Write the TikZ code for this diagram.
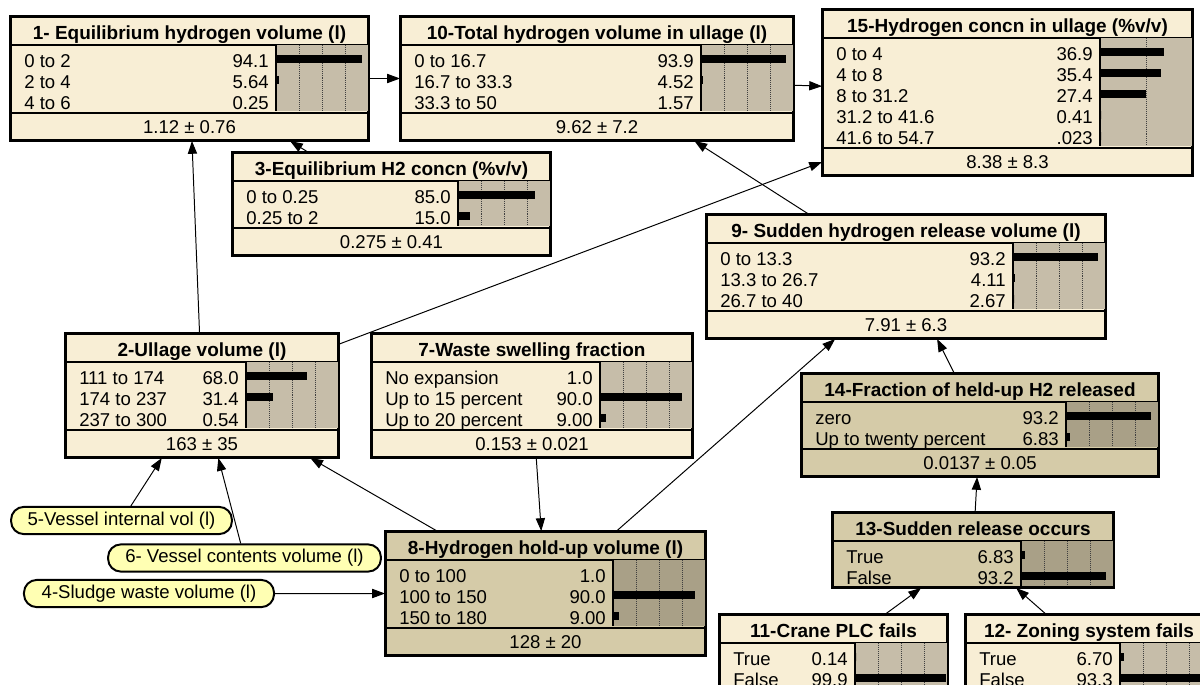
\documentclass[tikz,border=0pt]{standalone}
\usepackage{fontspec}
\setmainfont{Liberation Sans}
\usepackage{tikz}
\usetikzlibrary{arrows.meta, calc, fit}
\definecolor{nodecream}{HTML}{F8EED5}
\definecolor{histcream}{HTML}{C6BDA9}
\definecolor{nodetan}{HTML}{D5CBA8}
\definecolor{histtan}{HTML}{A9A087}
\definecolor{pillyellow}{HTML}{FFFFB3}
\tikzset{
    bnbox/.style={rectangle, draw=black, line width=1.4pt, inner sep=0pt, fill=nodecream},
    bndark/.style={bnbox, fill=nodetan},
    pill/.style={rectangle, rounded corners=0.32cm, draw=black, line width=1.4pt, inner sep=0pt, minimum height=0.68cm, fill=pillyellow, font=\fontsize{13.2}{15}\selectfont},
    bntitle/.style={anchor=base, inner sep=0pt, font=\fontsize{13.5}{15}\selectfont\bfseries},
    statetext/.style={inner sep=0pt, font=\fontsize{13.2}{15}\selectfont},
    bnsep/.style={line width=1.2pt},
    gridline/.style={densely dotted, line width=0.4pt, black!75},
    link/.style={line width=0.7pt, -{Triangle[length=3.2mm, width=2.3mm]}}
}
\newcommand{\bnstates}[4][93]{%
  \foreach \lab/\val [count=\k] in {#4} {\xdef\bnrows{\k}}
  \draw[bnsep] ($(#2.north west)+(0,29)$) -- ($(#2.north east)+(0,29)$);
  \fill[#3] ($(#2.north east)+(-93,29)$) rectangle ($(#2.north east)+(0,32+21*\bnrows)$);
  \begin{scope}
    \clip ($(#2.north east)+(-93,29)$) rectangle ($(#2.north east)+(0,32+21*\bnrows)$);
    \foreach \g in {1,2,3}
      \draw[gridline] ($(#2.north east)+(-93+\g*#1/4,29)$) -- ++(0,3+21*\bnrows);
  \end{scope}
  \draw[bnsep] ($(#2.north east)+(-93,29)$) -- ++(0,3+21*\bnrows);
  \foreach \lab/\val [count=\k] in {#4} {
    \node[statetext, anchor=base west] at ($(#2.north west)+(14,30.2+21*\k)$) {\lab};
    \node[statetext, anchor=base east] at ($(#2.north east)+(-100,30.2+21*\k)$) {\val};
    \fill ($(#2.north east)+(-92,18+21*\k)$) rectangle ++({max(0,(\val-3.2)*#1/100)},8);
  }
  \draw[line width=1.4pt] (#2.north west) rectangle (#2.south east);
}
\newcommand{\bnmean}[2]{%
  \draw[bnsep] ($(#1.south west)+(0,-28)$) -- ($(#1.south east)+(0,-28)$);
  \node[statetext, anchor=base] at ($(#1.south)+(0,-7.4)$) {#2};
}

\begin{document}
\begin{tikzpicture}[x=0.025cm, y=-0.025cm]
    \useasboundingbox (0,0) rectangle (1200,684);
    \fill[white] (0,0) rectangle (1200,684);
    \clip (0,0) rectangle (1200,684);

    \node[bnbox, fit={(11,17) (368,140)}] (eqvol) {};
    \node[bntitle] at ($(eqvol.north)+(0,23)$) {1- Equilibrium hydrogen volume (l)};
    \bnstates{eqvol}{histcream}{0 to 2/94.1, 2 to 4/5.64, 4 to 6/0.25}
    \bnmean{eqvol}{1.12 ± 0.76}

    \node[bnbox, fit={(401,17) (793,140)}] (totvol) {};
    \node[bntitle] at ($(totvol.north)+(0,23)$) {10-Total hydrogen volume in ullage (l)};
    \bnstates{totvol}{histcream}{0 to 16.7/93.9, 16.7 to 33.3/4.52, 33.3 to 50/1.57}
    \bnmean{totvol}{9.62 ± 7.2}

    \node[bnbox, fit={(823,10) (1192,175)}] (concn) {};
    \node[bntitle] at ($(concn.north)+(0,23)$) {15-Hydrogen concn in ullage (\%v/v)};
    \bnstates[186]{concn}{histcream}{0 to 4/36.9, 4 to 8/35.4, 8 to 31.2/27.4, 31.2 to 41.6/0.41, 41.6 to 54.7/.023}
    \bnmean{concn}{8.38 ± 8.3}

    \node[bnbox, fit={(233,153) (550,255)}] (eqconc) {};
    \node[bntitle] at ($(eqconc.north)+(0,23)$) {3-Equilibrium H2 concn (\%v/v)};
    \bnstates{eqconc}{histcream}{0 to 0.25/85.0, 0.25 to 2/15.0}
    \bnmean{eqconc}{0.275 ± 0.41}

    \node[bnbox, fit={(707,215) (1105,338)}] (release) {};
    \node[bntitle] at ($(release.north)+(0,23)$) {9- Sudden hydrogen release volume (l)};
    \bnstates{release}{histcream}{0 to 13.3/93.2, 13.3 to 26.7/4.11, 26.7 to 40/2.67}
    \bnmean{release}{7.91 ± 6.3}

    \node[bnbox, fit={(66,334) (338,457)}] (ullage) {};
    \node[bntitle] at ($(ullage.north)+(0,23)$) {2-Ullage volume (l)};
    \bnstates{ullage}{histcream}{111 to 174/68.0, 174 to 237/31.4, 237 to 300/0.54}
    \bnmean{ullage}{163 ± 35}

    \node[bnbox, fit={(372,334) (692,457)}] (swelling) {};
    \node[bntitle] at ($(swelling.north)+(0,23)$) {7-Waste swelling fraction};
    \bnstates{swelling}{histcream}{No expansion/1.0, Up to 15 percent/90.0, Up to 20 percent/9.00}
    \bnmean{swelling}{0.153 ± 0.021}

    \node[bndark, fit={(802,374) (1158,476)}] (fraction) {};
    \node[bntitle] at ($(fraction.north)+(0,23)$) {14-Fraction of held-up H2 released};
    \bnstates{fraction}{histtan}{zero/93.2, Up to twenty percent/6.83}
    \bnmean{fraction}{0.0137 ± 0.05}

    \node[bndark, fit={(386,532) (705,655)}] (holdup) {};
    \node[bntitle] at ($(holdup.north)+(0,23)$) {8-Hydrogen hold-up volume (l)};
    \bnstates{holdup}{histtan}{0 to 100/1.0, 100 to 150/90.0, 150 to 180/9.00}
    \bnmean{holdup}{128 ± 20}

    \node[bndark, fit={(833,513) (1113,587)}] (occurs) {};
    \node[bntitle] at ($(occurs.north)+(0,23)$) {13-Sudden release occurs};
    \bnstates{occurs}{histtan}{True/6.83, False/93.2}

    \node[bnbox, fit={(720,615) (947,689)}] (crane) {};
    \node[bntitle] at ($(crane.north)+(0,23)$) {11-Crane PLC fails};
    \bnstates{crane}{histcream}{True/0.14, False/99.9}

    \node[bnbox, fit={(966,615) (1212,689)}] (zoning) {};
    \node[bntitle] at ($(zoning.north)+(0,23)$) {12- Zoning system fails};
    \bnstates{zoning}{histcream}{True/6.70, False/93.3}

    \node[pill, minimum width=5.52cm] (vessel) at (121.5,520.5) {5-Vessel internal vol (l)};
    \node[pill, minimum width=6.82cm] (contents) at (244.5,558) {6- Vessel contents volume (l)};
    \node[pill, minimum width=6.25cm] (sludge) at (149,593.5) {4-Sludge waste volume (l)};

    \draw[link] (eqvol) -- (totvol);
    \draw[link] (totvol) -- (concn);
    \draw[link] (ullage) -- (concn);
    \draw[link] (ullage) -- (eqvol);
    \draw[link] (eqconc) -- (eqvol);
    \draw[link] (release) -- (totvol);
    \draw[link] (holdup) -- (release);
    \draw[link] (fraction) -- (release);
    \draw[link] (occurs) -- (fraction);
    \draw[link] (crane) -- (occurs);
    \draw[link] (zoning) -- (occurs);
    \draw[link] (swelling) -- (holdup);
    \draw[link] (holdup) -- (ullage);
    \draw[link] (sludge) -- (holdup);
    \draw[link] (vessel) -- (ullage);
    \draw[link] (contents) -- (ullage);
\end{tikzpicture}
\end{document}
